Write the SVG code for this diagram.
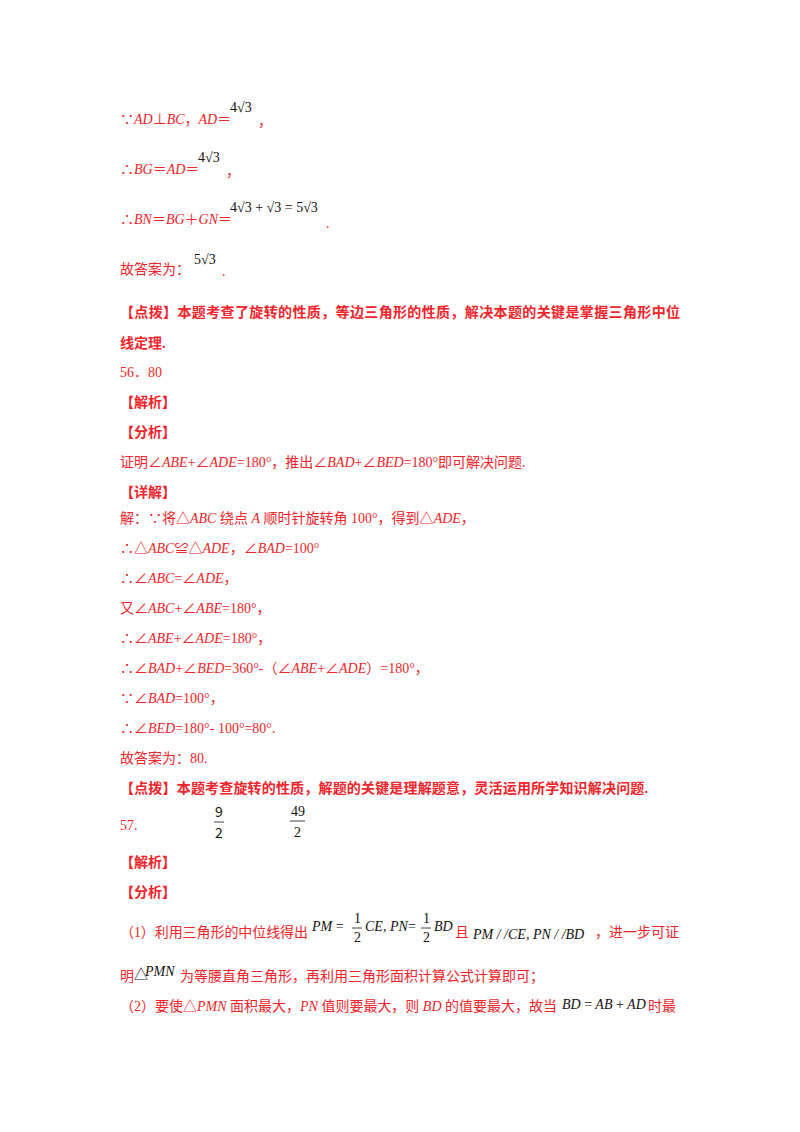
<svg xmlns="http://www.w3.org/2000/svg" width="800" height="1132" viewBox="0 0 800 1132">
<style>
text{font-family:"Liberation Serif","Noto Sans CJK SC",serif;font-size:14px;fill:#f0242a}
.m{fill:#111}
.b{font-weight:bold}
.i{font-style:italic}
.s{font-family:"Noto Sans CJK SC",sans-serif}
.bar{stroke:#111;stroke-width:0.8}
</style>
<rect width="800" height="1132" fill="#fff"/>
<text x="120" y="124">∵<tspan class="i">AD</tspan>⊥<tspan class="i">BC</tspan>，<tspan class="i">AD</tspan>＝</text>
<text class="m" x="230" y="112">4√3</text><text x="258" y="126">，</text>
<text x="120" y="174">∴<tspan class="i">BG</tspan>＝<tspan class="i">AD</tspan>＝</text>
<text class="m" x="198" y="162">4√3</text><text x="226" y="176">，</text>
<text x="120" y="224">∴<tspan class="i">BN</tspan>＝<tspan class="i">BG</tspan>＋<tspan class="i">GN</tspan>＝</text>
<text class="m" x="230" y="212">4√3 + √3 = 5√3</text><text x="326" y="228">.</text>
<text x="120" y="274">故答案为：</text>
<text class="m" x="194" y="264">5√3</text><text x="222" y="276">.</text>
<text class="b" x="120" y="317" textLength="560">【点拨】本题考查了旋转的性质，等边三角形的性质，解决本题的关键是掌握三角形中位</text>
<text class="b" x="120" y="348">线定理.</text>
<text x="120" y="377">56．80</text>
<text class="b" x="120" y="407">【解析】</text>
<text class="b" x="120" y="437">【分析】</text>
<text x="120" y="467">证明∠<tspan class="i">ABE</tspan>+∠<tspan class="i">ADE</tspan>=180°，推出∠<tspan class="i">BAD</tspan>+∠<tspan class="i">BED</tspan>=180°即可解决问题.</text>
<text class="b" x="120" y="497">【详解】</text>
<text x="120" y="523">解：∵将△<tspan class="i">ABC</tspan> 绕点 <tspan class="i">A</tspan> 顺时针旋转角 100°，得到△<tspan class="i">ADE</tspan>，</text>
<text x="120" y="553">∴△<tspan class="i">ABC</tspan>≌△<tspan class="i">ADE</tspan>，∠<tspan class="i">BAD</tspan>=100°</text>
<text x="120" y="583">∴∠<tspan class="i">ABC</tspan>=∠<tspan class="i">ADE</tspan>，</text>
<text x="120" y="613">又∠<tspan class="i">ABC</tspan>+∠<tspan class="i">ABE</tspan>=180°，</text>
<text x="120" y="643">∴∠<tspan class="i">ABE</tspan>+∠<tspan class="i">ADE</tspan>=180°，</text>
<text x="120" y="673">∴∠<tspan class="i">BAD</tspan>+∠<tspan class="i">BED</tspan>=360°-（∠<tspan class="i">ABE</tspan>+∠<tspan class="i">ADE</tspan>）=180°，</text>
<text x="120" y="703">∵∠<tspan class="i">BAD</tspan>=100°，</text>
<text x="120" y="733">∴∠<tspan class="i">BED</tspan>=180°- 100°=80°.</text>
<text x="120" y="763">故答案为：80.</text>
<text class="b" x="120" y="793" textLength="528">【点拨】本题考查旋转的性质，解题的关键是理解题意，灵活运用所学知识解决问题.</text>
<text x="120" y="830">57.</text>
<text class="m s" x="215" y="817">9</text><line class="bar" x1="214" y1="822" x2="224" y2="822"/><text class="m s" x="215" y="838">2</text>
<text class="m" x="291" y="816">49</text><line class="bar" x1="290" y1="821" x2="305" y2="821"/><text class="m" x="294" y="837">2</text>
<text class="b" x="120" y="867">【解析】</text>
<text class="b" x="120" y="897">【分析】</text>
<text x="120" y="937" textLength="188">（1）利用三角形的中位线得出</text>
<text class="m" x="312" y="931"><tspan class="i">PM</tspan> = </text>
<text class="m" x="354" y="923">1</text><line class="bar" x1="352" y1="928" x2="362" y2="928"/><text class="m" x="354" y="942">2</text>
<text class="m i" x="365" y="931">CE, PN</text><text class="m" x="408" y="931"> = </text>
<text class="m" x="423" y="923">1</text><line class="bar" x1="421" y1="928" x2="431" y2="928"/><text class="m" x="423" y="942">2</text>
<text class="m i" x="434" y="931">BD</text>
<text x="455" y="937">且</text>
<text class="m i" x="473" y="939">PM / /CE, PN / /BD</text>
<text x="595" y="937">，进一步可证</text>
<text x="120" y="981">明</text><text class="m" x="134" y="979" font-size="8">△</text><text class="m i" x="145" y="976">PMN</text>
<text x="180" y="981">为等腰直角三角形，再利用三角形面积计算公式计算即可；</text>
<text x="120" y="1011" textLength="437">（2）要使△<tspan class="i">PMN</tspan> 面积最大，<tspan class="i">PN</tspan> 值则要最大，则 <tspan class="i">BD</tspan> 的值要最大，故当</text>
<text class="m i" x="562" y="1009">BD <tspan font-style="normal">=</tspan> AB <tspan font-style="normal">+</tspan> AD</text>
<text x="648" y="1011">时最</text>
</svg>
